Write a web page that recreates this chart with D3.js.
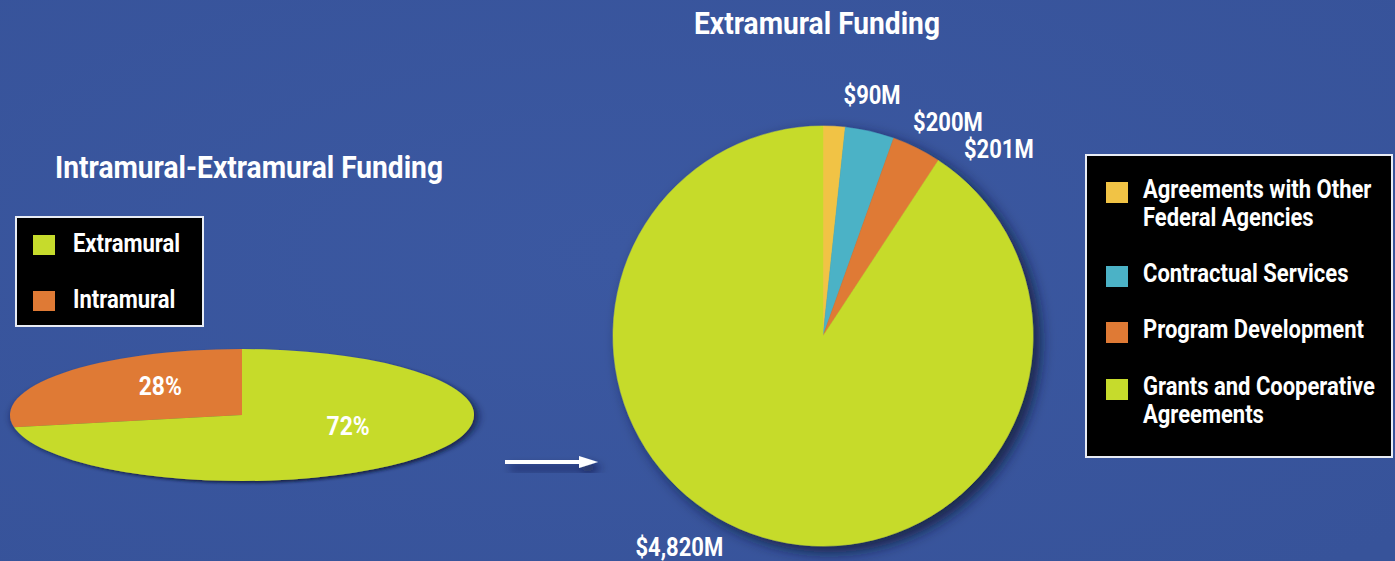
<!DOCTYPE html>
<html>
<head>
<meta charset="utf-8">
<script src="https://cdn.jsdelivr.net/npm/d3@7/dist/d3.min.js"></script>
<style>
  html, body { margin: 0; padding: 0; background: #3a569e; }
  svg { display: block; }
  text { font-family: Roboto, "Liberation Sans", "DejaVu Sans Condensed", sans-serif; font-weight: bold; fill: #ffffff; }
</style>
</head>
<body>
<svg id="chart" width="1395" height="561"></svg>
<script>
// Intramural vs extramural split (percent)
const splitCategories = ["Intramural", "Extramural"];
const splitValues = [28, 72];
const splitLabels = ["28%", "72%"];
const splitLegendOrder = ["Extramural", "Intramural"];

// Extramural funding by mechanism ($ millions)
const mechCategories = ["Agreements with Other Federal Agencies", "Contractual Services", "Program Development", "Grants and Cooperative Agreements"];
const mechValues = [90, 200, 201, 4820];
const mechLabels = ["$90M", "$200M", "$201M", "$4,820M"];
const mechLegendLines = [["Agreements with Other", "Federal Agencies"], ["Contractual Services"], ["Program Development"], ["Grants and Cooperative", "Agreements"]];

const colors = {
  "Intramural": "#df7a35",
  "Extramural": "#c6db2c",
  "Agreements with Other Federal Agencies": "#f1c345",
  "Contractual Services": "#4bb2c6",
  "Program Development": "#df7a35",
  "Grants and Cooperative Agreements": "#c6db2c"
};

const svg = d3.select("#chart");
const W = 1395, H = 561;
const CONDENSE = 0.88; // horizontal squeeze for a condensed-gothic look

// text helper: condensed bold label anchored at (x, y)
function label(parent, x, y, str, size, anchor = "start") {
  return parent.append("text")
    .attr("transform", `translate(${x},${y}) scale(${CONDENSE},1)`)
    .attr("text-anchor", anchor)
    .attr("font-size", size)
    .text(str);
}

const defs = svg.append("defs");
const bg = defs.append("radialGradient").attr("id", "bg").attr("cx", "45%").attr("cy", "45%").attr("r", "75%");
bg.append("stop").attr("offset", "0%").attr("stop-color", "#3b58a1");
bg.append("stop").attr("offset", "100%").attr("stop-color", "#37539a");
svg.append("rect").attr("width", W).attr("height", H).attr("fill", "url(#bg)");

function shadow(id, dx, dy, sd, op) {
  const f = defs.append("filter").attr("id", id)
    .attr("x", "-20%").attr("y", "-20%").attr("width", "150%").attr("height", "160%");
  f.append("feDropShadow").attr("dx", dx).attr("dy", dy).attr("stdDeviation", sd)
    .attr("flood-color", "#0c1535").attr("flood-opacity", op);
}
shadow("pieShadow", 7, 6, 7, 0.8);
shadow("ovalShadow", 3, 7, 5, 0.85);
shadow("arrowShadow", 5, 6, 4, 0.7);

// ---------- Left: squashed pie of intramural / extramural ----------
const oval = { cx: 242, cy: 415, rx: 232, ry: 66 };
const splitShare0 = splitValues[0] / d3.sum(splitValues);
const splitPie = d3.pie().sort(null)
  .startAngle(-splitShare0 * 2 * Math.PI)
  .endAngle(2 * Math.PI - splitShare0 * 2 * Math.PI);
const splitArcs = splitPie(splitValues);
const splitArc = d3.arc().innerRadius(0).outerRadius(oval.rx);

const ovalG = svg.append("g")
  .attr("transform", `translate(${oval.cx},${oval.cy}) scale(1,${oval.ry / oval.rx})`);
const ovalShadowG = ovalG.append("g").attr("filter", "url(#ovalShadow)");
ovalShadowG.selectAll("path").data(splitArcs).join("path")
  .attr("d", splitArc)
  .attr("fill", (d, i) => colors[splitCategories[i]]);

// value labels inside the oval
const splitLabelNudge = [{ a: 13, r: 0.58 }, { a: -22, r: 0.48 }];
const splitLabelG = svg.append("g");
splitArcs.forEach((d, i) => {
  const a = (d.startAngle + d.endAngle) / 2 + splitLabelNudge[i].a * Math.PI / 180;
  label(splitLabelG,
    oval.cx + Math.sin(a) * oval.rx * splitLabelNudge[i].r,
    oval.cy - Math.cos(a) * oval.ry * splitLabelNudge[i].r + 10,
    splitLabels[i], 26, "middle");
});

label(svg, 249, 178, "Intramural-Extramural Funding", 32, "middle");

// left legend
const lg = svg.append("g").attr("transform", "translate(16,217)");
lg.append("rect").attr("width", 187).attr("height", 109).attr("fill", "#000")
  .attr("stroke", "#e8ecf4").attr("stroke-width", 2);
splitLegendOrder.forEach((c, i) => {
  const y = 18 + i * 56;
  lg.append("rect").attr("x", 17).attr("y", y).attr("width", 22).attr("height", 20).attr("fill", colors[c]);
  label(lg, 57, y + 17, c, 25);
});

// arrow between the two charts
const arrowG = svg.append("g").attr("filter", "url(#arrowShadow)");
arrowG.append("line").attr("x1", 505).attr("x2", 582).attr("y1", 462).attr("y2", 462)
  .attr("stroke", "#fff").attr("stroke-width", 4);
arrowG.append("path").attr("d", "M579,456 L598,462 L579,468 Z").attr("fill", "#fff");

// ---------- Right: extramural funding pie ----------
const pc = { cx: 823, cy: 336, r: 210 };
const mechPie = d3.pie().sort(null);
const mechArcs = mechPie(mechValues);
const mechArc = d3.arc().innerRadius(0).outerRadius(pc.r);

const pieG = svg.append("g").attr("transform", `translate(${pc.cx},${pc.cy})`)
  .attr("filter", "url(#pieShadow)");
pieG.selectAll("path").data(mechArcs).join("path")
  .attr("d", mechArc)
  .attr("fill", (d, i) => colors[mechCategories[i]])
  .attr("stroke", (d, i) => colors[mechCategories[i]]).attr("stroke-width", 0.5);

// value labels outside the pie, pushed clockwise off their slices
const mechLabelNudge = [{ a: 8.5, r: 245 }, { a: 17.5, r: 247 }, { a: 16.9, r: 256 }, { a: 17.5, r: 256 }];
const mechLabelG = svg.append("g");
mechArcs.forEach((d, i) => {
  const a = (d.startAngle + d.endAngle) / 2 + mechLabelNudge[i].a * Math.PI / 180;
  label(mechLabelG,
    pc.cx + Math.sin(a) * mechLabelNudge[i].r,
    pc.cy - Math.cos(a) * mechLabelNudge[i].r + 8,
    mechLabels[i], 25, "middle");
});

label(svg, 817, 34, "Extramural Funding", 32, "middle");

// right legend
const rg = svg.append("g").attr("transform", "translate(1086,155)");
rg.append("rect").attr("width", 306).attr("height", 302).attr("fill", "#000")
  .attr("stroke", "#e8ecf4").attr("stroke-width", 2);
const rowBaselines = [43, 127, 183, 240];
mechCategories.forEach((c, i) => {
  const y = rowBaselines[i];
  rg.append("rect").attr("x", 20).attr("y", y - 16).attr("width", 22).attr("height", 21).attr("fill", colors[c]);
  mechLegendLines[i].forEach((line, j) => {
    label(rg, 57, y + j * 28, line, 25);
  });
});
</script>
</body>
</html>
